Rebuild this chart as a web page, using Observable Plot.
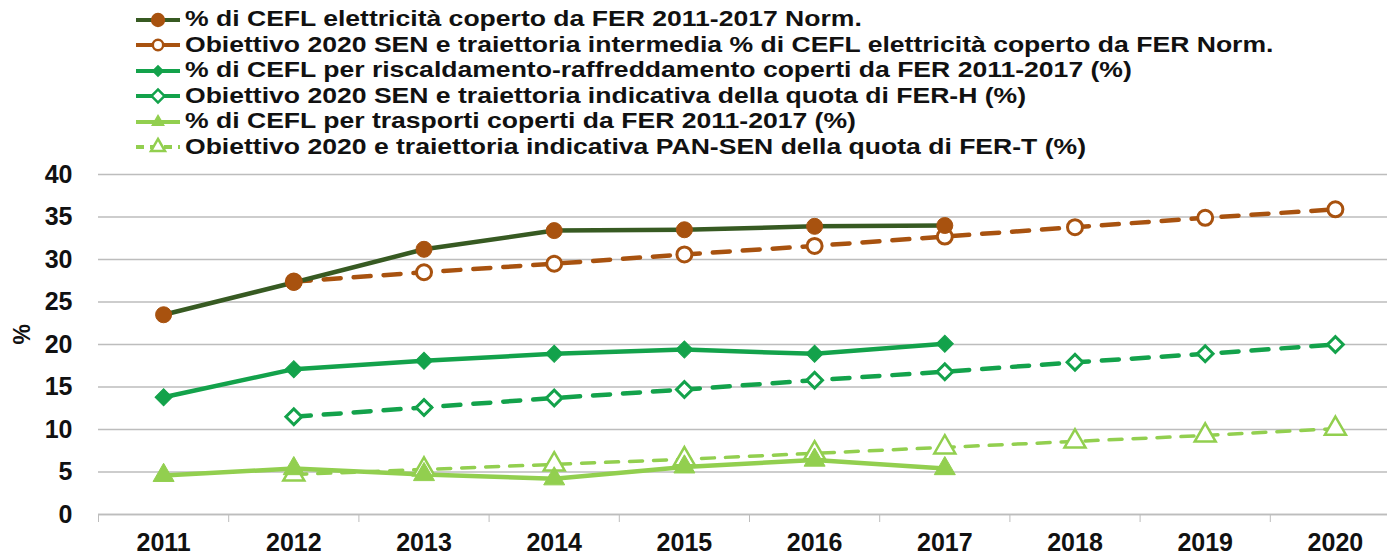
<!DOCTYPE html>
<html><head><meta charset="utf-8">
<script src="https://cdn.jsdelivr.net/npm/d3@7"></script>
<script src="https://cdn.jsdelivr.net/npm/@observablehq/plot@0.6"></script>
<style>
body{margin:0;background:#fff;font-family:"Liberation Sans",Arial,sans-serif;}
#legend{height:160px;box-sizing:border-box;padding-top:7px;padding-left:136px;}
.item{display:flex;align-items:center;height:25.5px;font-weight:bold;font-size:21.5px;color:#111;white-space:nowrap;}
.item svg{margin-right:3px;flex:none;}
.item span{display:inline-block;transform:scaleX(1.235);transform-origin:left center;}
#chart svg{display:block;}
</style></head><body>
<div id="legend"></div>
<div id="chart"></div>
<script>
const years = [2011,2012,2013,2014,2015,2016,2017,2018,2019,2020];
const boundaries = [2010.5,2011.5,2012.5,2013.5,2014.5,2015.5,2016.5,2017.5,2018.5,2019.5,2020.5];
const yTicks = [0,5,10,15,20,25,30,35,40];

const elecYears = [2011,2012,2013,2014,2015,2016,2017];
const elecActual = [23.5,27.3,31.2,33.4,33.5,33.9,34.0];
const targetYears = [2012,2013,2014,2015,2016,2017,2018,2019,2020];
const elecTarget = [27.4,28.5,29.5,30.6,31.6,32.7,33.8,34.9,35.9];
const heatActual = [13.8,17.1,18.1,18.9,19.4,18.9,20.1];
const heatTarget = [11.5,12.6,13.7,14.7,15.8,16.8,17.9,18.9,20.0];
const transActual = [4.6,5.4,4.7,4.2,5.6,6.4,5.4];
const transTarget = [4.7,5.3,5.9,6.5,7.2,7.9,8.6,9.3,10.1];

const labels = [
  "% di CEFL elettricità coperto da FER 2011-2017 Norm.",
  "Obiettivo 2020 SEN e traiettoria intermedia % di CEFL elettricità coperto da FER Norm.",
  "% di CEFL per riscaldamento-raffreddamento coperti da FER 2011-2017 (%)",
  "Obiettivo 2020 SEN e traiettoria indicativa della quota di FER-H (%)",
  "% di CEFL per trasporti coperti da FER 2011-2017 (%)",
  "Obiettivo 2020 e traiettoria indicativa PAN-SEN della quota di FER-T (%)"
];

const BROWN = "#a8520f", DKGREEN = "#375a22", GREEN = "#13a24b", LTGREEN = "#92cf4f";

const mk = (xs, ys) => xs.map((x,i)=>({x, y: ys[i]}));
const eA = mk(elecYears, elecActual), eT = mk(targetYears, elecTarget);
const hA = mk(elecYears, heatActual), hT = mk(targetYears, heatTarget);
const tA = mk(elecYears, transActual), tT = mk(targetYears, transTarget);

const plot = Plot.plot({
  width: 1387, height: 395,
  marginLeft: 98, marginRight: -13, marginTop: 14, marginBottom: 41,
  x: {type: "linear", domain: [2010.5, 2020.5], axis: null},
  y: {domain: [0, 40], axis: null},
  style: {fontFamily: "Liberation Sans, Arial, sans-serif", overflow: "visible"},
  marks: [
    Plot.gridY(yTicks, {stroke: "#bdbdbd", strokeOpacity: 1, strokeWidth: 1.5}),
    Plot.axisY(yTicks, {tickSize: 0, tickPadding: 26, fontSize: 25, fontWeight: "bold", fill: "#111", label: null}),
    Plot.text(["%"], {frameAnchor: "left", dx: -76, rotate: -90, fontSize: 23, fontWeight: "bold", fill: "#111"}),
    Plot.ruleY([0], {stroke: "#bdbdbd", strokeWidth: 1.5}),
    Plot.axisX(boundaries, {tickSize: 8, stroke: "#bdbdbd", tickFormat: () => "", label: null}),
    Plot.axisX(years, {tickSize: 0, tickPadding: 19, tickFormat: d => String(d), fontSize: 25, fontWeight: "bold", fill: "#111", label: null}),
    // transport
    Plot.line(tT, {x: "x", y: "y", stroke: LTGREEN, strokeWidth: 3.5, strokeDasharray: "13 11"}),
    Plot.line(tA, {x: "x", y: "y", stroke: LTGREEN, strokeWidth: 4.5}),
    Plot.dot(tT, {x: "x", y: "y", symbol: "triangle", r: 7.8, fill: "white", stroke: LTGREEN, strokeWidth: 2.5}),
    Plot.dot(tA, {x: "x", y: "y", symbol: "triangle", r: 7.8, fill: LTGREEN, stroke: LTGREEN, strokeWidth: 1}),
    // heating
    Plot.line(hT, {x: "x", y: "y", stroke: GREEN, strokeWidth: 4.5, strokeDasharray: "17 13"}),
    Plot.line(hA, {x: "x", y: "y", stroke: GREEN, strokeWidth: 4.5}),
    Plot.dot(hT, {x: "x", y: "y", symbol: "square", rotate: 45, r: 6.3, fill: "white", stroke: GREEN, strokeWidth: 3}),
    Plot.dot(hA, {x: "x", y: "y", symbol: "square", rotate: 45, r: 6.8, fill: GREEN, stroke: GREEN, strokeWidth: 1}),
    // electricity
    Plot.line(eT, {x: "x", y: "y", stroke: BROWN, strokeWidth: 4.5, strokeDasharray: "17 13"}),
    Plot.line(eA, {x: "x", y: "y", stroke: DKGREEN, strokeWidth: 4.5}),
    Plot.dot(eT, {x: "x", y: "y", r: 7.5, fill: "white", stroke: BROWN, strokeWidth: 3}),
    Plot.dot(eA, {x: "x", y: "y", r: 8, fill: BROWN, stroke: BROWN, strokeWidth: 1})
  ]
});
document.getElementById("chart").appendChild(plot);

// legend
const legendSpec = [
  {line: DKGREEN, dash: null, sym: "circle", fill: BROWN, stroke: BROWN},
  {line: BROWN, dash: null, sym: "circle", fill: "white", stroke: BROWN},
  {line: GREEN, dash: null, sym: "diamond", fill: GREEN, stroke: GREEN, small: true},
  {line: GREEN, dash: null, sym: "diamond", fill: "white", stroke: GREEN},
  {line: LTGREEN, dash: null, sym: "triangle", fill: LTGREEN, stroke: LTGREEN, small: true},
  {line: LTGREEN, dash: "8 6", sym: "triangle", fill: "white", stroke: LTGREEN}
];
const leg = d3.select("#legend");
legendSpec.forEach((s, i) => {
  const row = leg.append("div").attr("class", "item");
  const svg = row.append("svg").attr("width", 46).attr("height", 22);
  svg.append("line").attr("x1", 0).attr("x2", 44).attr("y1", 11).attr("y2", 11)
    .attr("stroke", s.line).attr("stroke-width", 4).attr("stroke-dasharray", s.dash);
  const symType = s.sym === "circle" ? d3.symbolCircle : s.sym === "diamond" ? d3.symbolSquare : d3.symbolTriangle;
  const size = s.small ? 40 : (i === 0 ? 110 : 85);
  svg.append("path").attr("d", d3.symbol(symType, size)())
    .attr("transform", "translate(22,11)" + (s.sym === "diamond" ? " rotate(45)" : ""))
    .attr("fill", s.fill).attr("stroke", s.stroke).attr("stroke-width", 2.5);
  row.append("span").text(labels[i]);
});
</script>
</body></html>
